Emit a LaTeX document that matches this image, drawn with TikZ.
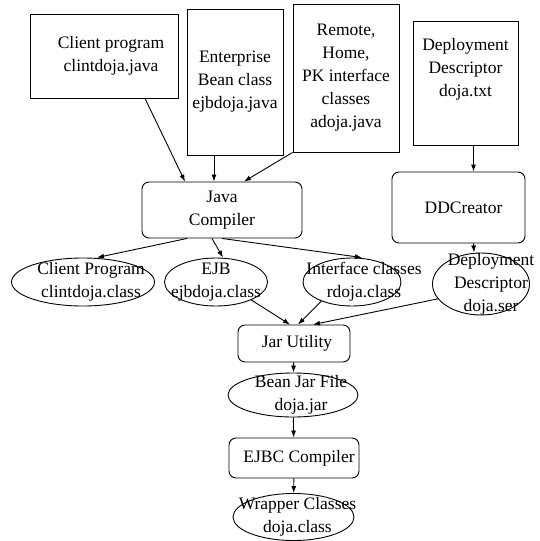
\documentclass[tikz,border=0pt]{standalone}
\usepackage{fontspec}
\setmainfont{Liberation Serif}
\usetikzlibrary{arrows.meta,shapes.geometric}

\begin{document}
\begin{tikzpicture}[x=1pt,y=-1pt,font=\rmfamily\fontsize{17.5}{23}\selectfont,>={Latex[length=7pt,width=5pt]},line width=0.9pt,
  box/.style={draw,align=center,inner sep=0pt},
  rbox/.style={box,rounded corners=7pt},
  oval/.style={draw,ellipse,inner sep=0pt},
  txt/.style={align=center}]
  \useasboundingbox (0,0) rectangle (539,541);
  % sources
  \node[box,minimum width=148,minimum height=84] (cpj) at (104,56) {\hspace*{14pt}Client program\\\hspace*{14pt}clintdoja.java};
  \node[box,minimum width=96,minimum height=146] (ebj) at (235,82) {Enterprise\\Bean class\\ejbdoja.java};
  \node[box,minimum width=106,minimum height=148] (rhj) at (346,78) {Remote,\\Home,\\PK interface\\classes\\adoja.java};
  \node[box,minimum width=105,minimum height=124] (ddt) at (465.5,83) {Deployment\\Descriptor\\doja.txt\\[8pt]};
  % tools
  \node[rbox,minimum width=160,minimum height=56] (jc) at (222,210) {Java\\Compiler};
  \node[rbox,minimum width=133,minimum height=71] (ddc) at (458.5,207.5) {\hspace*{10pt}DDCreator};
  % compiled classes
  \node[oval,minimum width=143,minimum height=48,label={[txt,xshift=8]center:Client Program\\clintdoja.class}] (cpc) at (83,282) {};
  \node[oval,minimum width=103,minimum height=48,label={[txt]center:EJB\\ejbdoja.class}] (ejc) at (216,282) {};
  \node[oval,minimum width=98,minimum height=48,label={[txt,xshift=12]center:Interface classes\\rdoja.class}] (ifc) at (352,282) {};
  \node[oval,minimum width=97,minimum height=62,label={[txt,xshift=10]center:Deployment\\Descriptor\\doja.ser}] (dds) at (481,284) {};
  % packaging
  \node[rbox,minimum width=112,minimum height=37] (jar) at (294,343.5) {\hspace*{6pt}Jar Utility};
  \node[oval,minimum width=130,minimum height=44,label={[txt,xshift=8]center:Bean Jar File\\doja.jar}] (bjf) at (293,395) {};
  \node[rbox,minimum width=130,minimum height=40] (ejbc) at (294,458) {\hspace*{10pt}EJBC Compiler};
  \node[oval,minimum width=121,minimum height=47,label={[txt,xshift=4]center:Wrapper Classes\\doja.class}] (wcl) at (293.5,517) {};

  \draw[->] ([xshift=41]cpj.south) -- ([xshift=-37]jc.north);
  \draw[->] ([xshift=-21]ebj.south) -- ([xshift=-8]jc.north);
  \draw[->] (rhj.south west) -- ([xshift=22]jc.north);
  \draw[->] ([xshift=8]ddt.south) -- ([xshift=15]ddc.north);
  \draw[->] ([xshift=-35]jc.south) -- ([xshift=14]cpc.north);
  \draw[->] ([xshift=-10]jc.south) -- ([xshift=7]ejc.north);
  \draw[->] (jc.south) -- ([xshift=10]ifc.north);
  \draw[->] ([xshift=15]ddc.south) -- ([xshift=-7]dds.north);
  \draw[->] (ejc.333) -- ([xshift=-4]jar.north);
  \draw[->] (ifc.212) -- ([xshift=4]jar.north);
  \draw[->] (dds.199) -- ([xshift=19]jar.north);
  \draw[->] (jar) -- (bjf);
  \draw[->] (bjf) -- (ejbc);
  \draw[->] (ejbc) -- (wcl);
\end{tikzpicture}
\end{document}
